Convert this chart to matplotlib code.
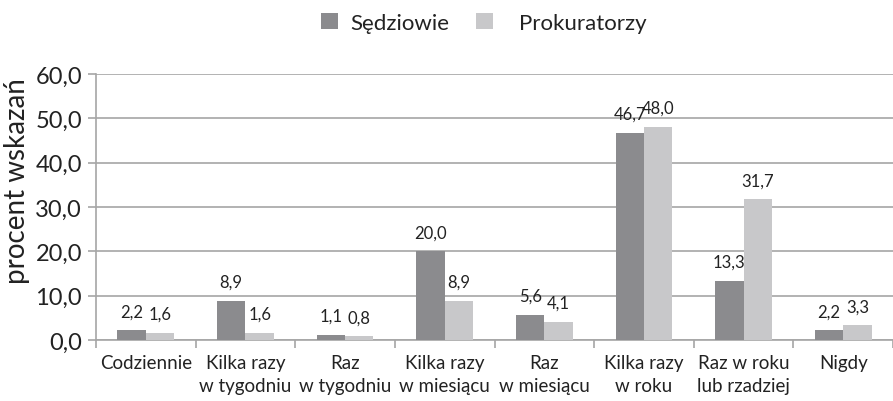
import numpy as np
import matplotlib.pyplot as plt
from matplotlib.ticker import FuncFormatter, FixedLocator

plt.rcParams['font.family'] = ['Lato', 'DejaVu Sans']

categories = ["Codziennie", "Kilka razy\nw tygodniu", "Raz\nw tygodniu",
              "Kilka razy\nw miesiącu", "Raz\nw miesiącu", "Kilka razy\nw roku",
              "Raz w roku\nlub rzadziej", "Nigdy"]
sedziowie = [2.2, 8.9, 1.1, 20.0, 5.6, 46.7, 13.3, 2.2]
prokuratorzy = [1.6, 1.6, 0.8, 8.9, 4.1, 48.0, 31.7, 3.3]

dark = '#8b8b8e'
light = '#c8c8ca'
grid = '#a6a6a6'
txt = '#222222'

fig = plt.figure(figsize=(8.93, 4.02), dpi=100)
ax = fig.add_axes([96 / 893, 1 - 341 / 402, 797 / 893, 266 / 402])

x = np.arange(len(categories))
w = 0.285
b1 = ax.bar(x - w / 2, sedziowie, w, color=dark, label='Sędziowie', zorder=3)
b2 = ax.bar(x + w / 2, prokuratorzy, w, color=light, label='Prokuratorzy', zorder=3)

fmt = lambda v: f"{v:.1f}".replace('.', ',')
for bars, vals in ((b1, sedziowie), (b2, prokuratorzy)):
    for r, v in zip(bars, vals):
        ax.text(r.get_x() + r.get_width() / 2, v + 2.5, fmt(v),
                ha='center', va='bottom', fontsize=12, color=txt, zorder=4)

ax.set_xlim(-0.5, len(categories) - 0.5)
ax.set_ylim(0, 60)
ax.set_yticks(np.arange(0, 61, 10))
ax.yaxis.set_major_formatter(FuncFormatter(lambda v, p: fmt(v)))
ax.tick_params(axis='y', labelsize=17, length=6, width=1.2, color=grid, pad=4, labelcolor=txt)
ax.grid(axis='y', color=grid, linewidth=1.2, zorder=0)

ax.xaxis.set_major_locator(FixedLocator(np.arange(-0.5, len(categories), 1.0)))
ax.xaxis.set_minor_locator(FixedLocator(x))
ax.set_xticklabels([], minor=False)
ax.set_xticklabels(categories, minor=True)
ax.tick_params(axis='x', which='major', length=6, width=1.2, color=grid)
ax.tick_params(axis='x', which='minor', length=0, labelsize=13.5, pad=10, labelcolor=txt)
for lab in ax.get_xticklabels(minor=True):
    lab.set_linespacing(1.45)

for s in ('top', 'right'):
    ax.spines[s].set_visible(False)
for s in ('left', 'bottom'):
    ax.spines[s].set_color(grid)
    ax.spines[s].set_linewidth(1.2)

ax.set_ylabel('procent wskazań', fontsize=20, color=txt)
ax.yaxis.set_label_coords(-0.083, 0.60)

leg_kw = dict(loc='center left', frameon=False, fontsize=16, handlelength=0.75,
              handleheight=0.75, borderpad=0, borderaxespad=0, labelcolor=txt)
fig.legend(handles=[b1], bbox_to_anchor=(321 / 893, 1 - 24 / 402),
           handletextpad=0.55, **leg_kw)
fig.legend(handles=[b2], bbox_to_anchor=(476 / 893, 1 - 24 / 402),
           handletextpad=1.2, **leg_kw)

plt.savefig('out.png', dpi=100)
